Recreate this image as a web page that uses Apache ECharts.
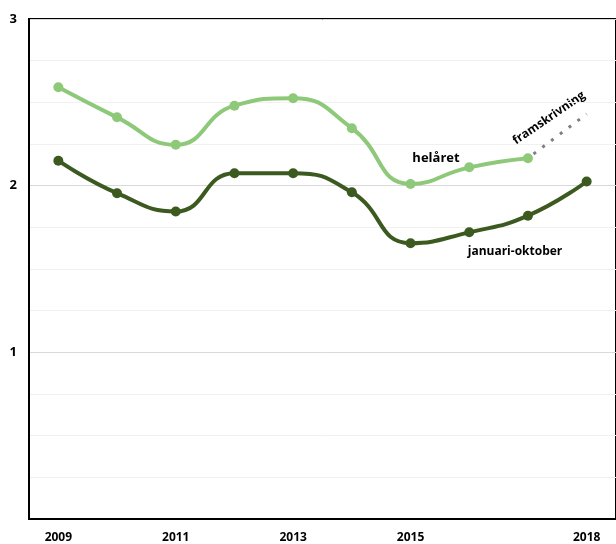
<!DOCTYPE html>
<html>
<head>
<meta charset="utf-8">
<script src="https://cdn.jsdelivr.net/npm/echarts@6/dist/echarts.min.js"></script>
<style>html,body{margin:0;padding:0;background:#fff}#c{width:616px;height:544px}</style>
</head>
<body>
<div id="c"></div>
<script>
const years = ['2009','2010','2011','2012','2013','2014','2015','2016','2017','2018'];
const shownYears = ['2009','2011','2013','2015','2018'];
const helaret = [2.59, 2.41, 2.245, 2.48, 2.525, 2.345, 2.01, 2.11, 2.165, null];
const janOkt = [2.15, 1.955, 1.845, 2.075, 2.075, 1.96, 1.655, 1.72, 1.82, 2.025];
const framskrivning = [null, null, null, null, null, null, null, null, 2.165, 2.43];
const yTicks = [0, 1, 2, 3];

const FONT = '"Open Sans", "Noto Sans", sans-serif';
const chart = echarts.init(document.getElementById('c'), null, {renderer: 'canvas'});
chart.setOption({
  animation: false,
  grid: {left: 29, top: 19, width: 590, height: 500, show: true, borderColor: '#000', borderWidth: 2, backgroundColor: 'transparent'},
  xAxis: {
    type: 'category', data: years, boundaryGap: true,
    axisLine: {lineStyle: {color: '#000', width: 2}},
    axisTick: {show: false},
    axisLabel: {
      interval: (i, v) => shownYears.includes(v),
      color: '#000', fontWeight: 'bold', fontSize: 12, fontFamily: FONT, margin: 13
    },
    splitLine: {show: false}
  },
  yAxis: {
    type: 'value', min: yTicks[0], max: yTicks[yTicks.length - 1], interval: 1,
    axisLine: {show: true, lineStyle: {color: '#000', width: 2}},
    axisTick: {show: false},
    axisLabel: {
      formatter: v => (v === 0 ? '' : String(v)),
      color: '#000', fontWeight: 'bold', fontSize: 13, fontFamily: FONT, margin: 12
    },
    splitLine: {show: true, lineStyle: {color: '#d9d9d9', width: 1}},
    minorTick: {show: false, splitNumber: 4},
    minorSplitLine: {show: true, lineStyle: {color: '#f0f0f0', width: 1}}
  },
  series: [
    {
      name: 'framskrivning', type: 'line', data: framskrivning,
      showSymbol: false, symbol: 'none',
      lineStyle: {color: '#7f7f7f', width: 3, type: [3, 8], dashOffset: -7},
      z: 1
    },
    {
      name: 'helåret', type: 'line', data: helaret, smooth: 0.5,
      symbol: 'circle', symbolSize: 10,
      itemStyle: {color: '#8ec97a'},
      lineStyle: {color: '#8ec97a', width: 4},
      z: 3
    },
    {
      name: 'januari-oktober', type: 'line', data: janOkt, smooth: 0.5,
      symbol: 'circle', symbolSize: 10,
      itemStyle: {color: '#3c5a20'},
      lineStyle: {color: '#3c5a20', width: 4},
      z: 3
    }
  ],
  graphic: [
    {type: 'text', x: 436, y: 158, style: {text: 'helåret', fill: '#000', font: 'bold 13px ' + FONT, textAlign: 'center', textVerticalAlign: 'middle'}},
    {type: 'text', x: 515, y: 252, style: {text: 'januari-oktober', fill: '#000', font: 'bold 12px ' + FONT, textAlign: 'center', textVerticalAlign: 'middle'}},
    {type: 'text', x: 549, y: 118, rotation: 0.6, style: {text: 'framskrivning', fill: '#000', font: 'bold 12px ' + FONT, textAlign: 'center', textVerticalAlign: 'middle'}}
  ]
});
</script>
</body>
</html>
